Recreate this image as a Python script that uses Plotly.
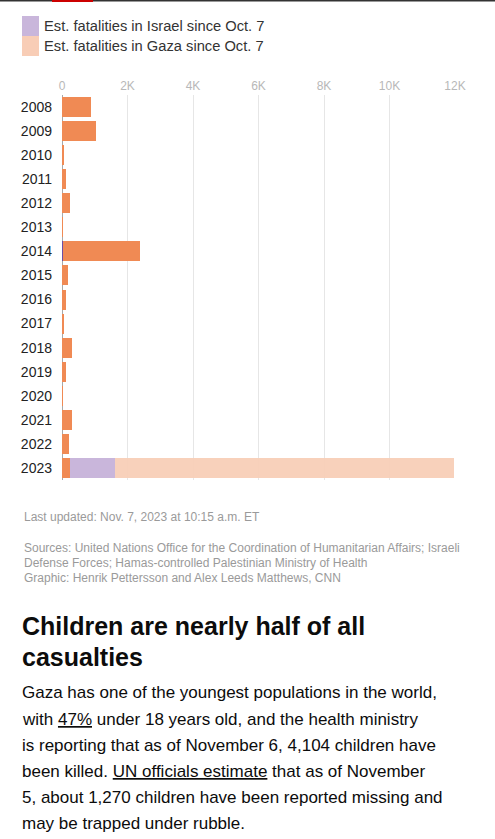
import plotly.graph_objects as go

# yearly fatalities
years = ["2008", "2009", "2010", "2011", "2012", "2013", "2014", "2015",
         "2016", "2017", "2018", "2019", "2020", "2021", "2022", "2023"]
israeli_yearly = [0, 0, 0, 0, 0, 0, 35, 0, 0, 0, 0, 0, 0, 0, 0, 0]
palestinian_yearly = [900, 1050, 75, 110, 230, 10, 2360, 170, 110, 75,
                      290, 135, 25, 320, 200, 230]
israel_since_oct7 = [0] * 15 + [1400]
gaza_since_oct7 = [0] * 15 + [10340]

tick_vals = [0, 2000, 4000, 6000, 8000, 10000, 12000]
tick_text = ["0", "2K", "4K", "6K", "8K", "10K", "12K"]

legend_labels = ["Est. fatalities in Israel since Oct. 7",
                 "Est. fatalities in Gaza since Oct. 7"]
legend_colors = ["#c9b6db", "#f8cdb6"]

last_updated = "Last updated: Nov. 7, 2023 at 10:15 a.m. ET"
sources = ["Sources: United Nations Office for the Coordination of Humanitarian Affairs; Israeli",
           "Defense Forces; Hamas-controlled Palestinian Ministry of Health",
           "Graphic: Henrik Pettersson and Alex Leeds Matthews, CNN"]
headline = ["Children are nearly half of all", "casualties"]
body = ["Gaza has one of the youngest populations in the world,",
        "with <u>47%</u> under 18 years old, and the health ministry",
        "is reporting that as of November 6, 4,104 children have",
        "been killed. <u>UN officials estimate</u> that as of November",
        "5, about 1,270 children have been reported missing and",
        "may be trapped under rubble."]

W, H = 495, 839
PLOT_L, PLOT_R = 62, 455
PLOT_T, PLOT_B = 95, 480
FONT = "Liberation Sans, Arial, sans-serif"


def px_x(px):
    return (px - PLOT_L) / (PLOT_R - PLOT_L)


def px_y(py):
    return (PLOT_B - py) / (PLOT_B - PLOT_T)


fig = go.Figure()

# stacked bars
for vals, color, opac in [(israeli_yearly, "#6b4fa6", 1),
                          (palestinian_yearly, "#f08a54", 1),
                          (israel_since_oct7, legend_colors[0], 1),
                          (gaza_since_oct7, legend_colors[1], 0.93)]:
    fig.add_trace(go.Bar(y=years, x=vals, orientation="h",
                         marker=dict(color=color, line=dict(width=0)),
                         opacity=opac, width=0.83,
                         hoverinfo="x+y", showlegend=False))

annotations = []
shapes = []

# top rule with red tab
shapes.append(dict(type="rect", xref="paper", yref="paper",
                   x0=px_x(0), x1=px_x(W), y0=px_y(0), y1=px_y(1.5),
                   fillcolor="#333333", line=dict(width=0)))
shapes.append(dict(type="rect", xref="paper", yref="paper",
                   x0=px_x(52), x1=px_x(93), y0=px_y(0), y1=px_y(2),
                   fillcolor="#cc0000", line=dict(width=0)))

# legend drawn by hand
for i, (lab, col) in enumerate(zip(legend_labels, legend_colors)):
    top = 16 + i * 20
    shapes.append(dict(type="rect", xref="paper", yref="paper",
                       x0=px_x(22), x1=px_x(39), y0=px_y(top), y1=px_y(top + 20),
                       fillcolor=col, line=dict(width=0)))
    annotations.append(dict(text=lab, xref="paper", yref="paper",
                            x=px_x(42), y=px_y(top + 10), xanchor="left", yanchor="middle",
                            showarrow=False, font=dict(size=14.7, color="#333333", family=FONT)))

# footnotes
annotations.append(dict(text=last_updated, xref="paper", yref="paper",
                        x=px_x(22), y=px_y(517), xanchor="left", yanchor="middle",
                        showarrow=False, font=dict(size=12, color="#9a9a9a", family=FONT)))
for i, line in enumerate(sources):
    annotations.append(dict(text=line, xref="paper", yref="paper",
                            x=px_x(22), y=px_y(548 + i * 15), xanchor="left", yanchor="middle",
                            showarrow=False, font=dict(size=12, color="#9a9a9a", family=FONT)))

# headline and body copy below the chart
for i, line in enumerate(headline):
    annotations.append(dict(text="<b>" + line + "</b>", xref="paper", yref="paper",
                            x=px_x(20), y=px_y(626 + i * 31), xanchor="left", yanchor="middle",
                            showarrow=False, font=dict(size=25, color="#0c0c0c", family=FONT)))
for i, line in enumerate(body):
    annotations.append(dict(text=line, xref="paper", yref="paper",
                            x=px_x(20), y=px_y(693 + i * 26), xanchor="left", yanchor="middle",
                            showarrow=False, font=dict(size=17, color="#0c0c0c", family=FONT)))

fig.update_layout(
    width=W, height=H,
    margin=dict(l=PLOT_L, r=W - PLOT_R, t=PLOT_T, b=H - PLOT_B, pad=0),
    barmode="stack",
    bargap=0.17,
    plot_bgcolor="white",
    paper_bgcolor="white",
    font=dict(family=FONT),
    showlegend=False,
    shapes=shapes,
    annotations=annotations,
    xaxis=dict(side="top", range=[0, 12000], tickvals=tick_vals, ticktext=tick_text,
               showgrid=True, gridcolor="#e6e6e6", gridwidth=1,
               zeroline=True, zerolinecolor="#a8a8a8", zerolinewidth=1,
               showline=False, ticks="", ticklabelstandoff=2,
               tickfont=dict(size=12, color="#b8b8b8", family=FONT), fixedrange=True),
    yaxis=dict(autorange="reversed", type="category", showgrid=False, zeroline=False,
               showline=False, ticks="", ticklabelstandoff=9,
               tickfont=dict(size=14, color="#222222", family=FONT), fixedrange=True),
)

# drop the default page margin so the figure sits at the window's corner
fig.write_html("out.html", config={"displayModeBar": False},
               post_script="document.body.style.margin='0px';")
